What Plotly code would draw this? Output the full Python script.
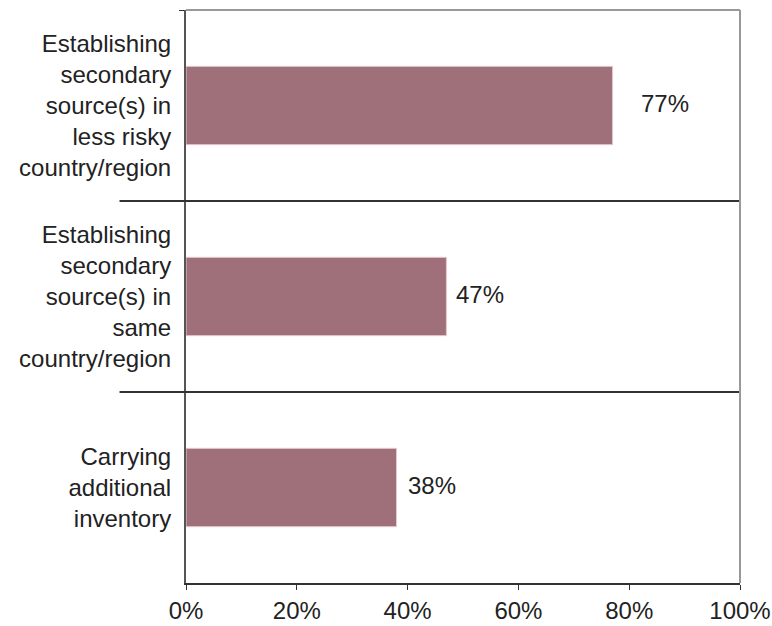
import plotly.graph_objects as go

categories = [
    "Establishing<br>secondary<br>source(s) in<br>less risky<br>country/region",
    "Establishing<br>secondary<br>source(s) in<br>same<br>country/region",
    "Carrying<br>additional<br>inventory",
]
values = [77, 47, 38]
value_labels = ["77%", "47%", "38%"]
tick_vals = [0, 20, 40, 60, 80, 100]
tick_text = ["0%", "20%", "40%", "60%", "80%", "100%"]

FONT = "Liberation Sans, Arial, sans-serif"
TXT = "#222222"

fig = go.Figure(
    go.Bar(
        x=values,
        y=categories,
        orientation="h",
        width=0.41,
        marker=dict(color="#A0707A", line=dict(color="#E6C8CD", width=1)),
        hoverinfo="skip",
    )
)

label_shift = [26, 8, 9]
for v, c, t, s in zip(values, categories, value_labels, label_shift):
    fig.add_annotation(
        x=v, y=c, text=t, showarrow=False, xanchor="left", yanchor="middle",
        xshift=s, yshift=2, font=dict(family=FONT, size=24, color=TXT),
    )

# separators between categories
for b in [0.5, 1.5]:
    fig.add_shape(type="line", xref="paper", yref="y", x0=-0.12, x1=1, y0=b, y1=b,
                  line=dict(color="#333333", width=2))
# top and right border
fig.add_shape(type="line", xref="paper", yref="paper", x0=0, x1=1, y0=1, y1=1,
              line=dict(color="#999999", width=2))
fig.add_shape(type="line", xref="paper", yref="paper", x0=1, x1=1, y0=0, y1=1,
              line=dict(color="#999999", width=2))

fig.update_layout(
    width=772, height=626,
    margin=dict(l=186, r=32, t=10, b=43),
    paper_bgcolor="white", plot_bgcolor="white",
    showlegend=False,
    font=dict(family=FONT, size=24, color=TXT),
    xaxis=dict(
        range=[0, 100], tickvals=tick_vals, ticktext=tick_text, automargin=False,
        showgrid=False, zeroline=False, showline=True, linecolor="#333333", linewidth=2,
        ticks="outside", ticklen=5, tickcolor="#333333", tickwidth=1,
        tickfont=dict(family=FONT, size=24, color=TXT), fixedrange=True,
    ),
    yaxis=dict(
        autorange="reversed", showgrid=False, zeroline=False, automargin=False,
        showline=True, linecolor="#555555", linewidth=2,
        ticks="outside", tickson="boundaries", ticklen=5, tickcolor="#333333",
        tickfont=dict(family=FONT, size=24, color=TXT), ticklabelstandoff=8,
        fixedrange=True,
    ),
)

fig.write_html("out.html")
